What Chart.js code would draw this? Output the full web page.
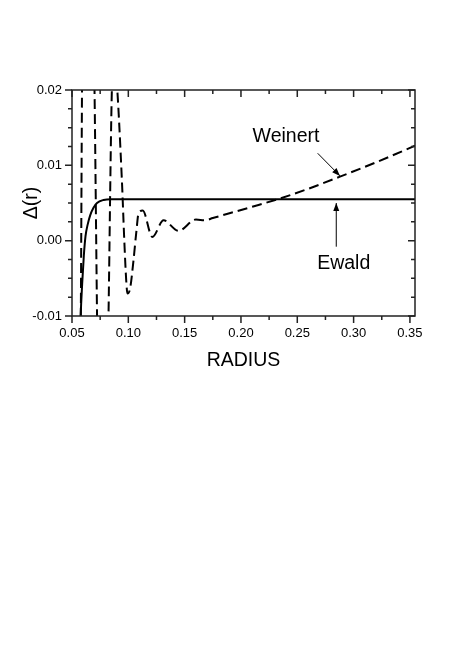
<!DOCTYPE html>
<html>
<head>
<meta charset="utf-8">
<script src="https://cdn.jsdelivr.net/npm/chart.js@4/dist/chart.umd.min.js"></script>
<style>
  html, body { margin: 0; padding: 0; background: #ffffff; }
  canvas { display: block; }
</style>
</head>
<body>
<canvas id="c" width="449" height="647"></canvas>
<script>
// ---- data ----
const weinertRadius = [0.0500, 0.0577, 0.0590, 0.0645, 0.0698, 0.0724, 0.0770, 0.0822, 0.0858, 0.0875,
  0.0893, 0.0943, 0.0964, 0.0981, 0.0992, 0.1015, 0.1046, 0.1070, 0.1092, 0.1128,
  0.1213, 0.1313, 0.1445, 0.1600, 0.1680, 0.1750, 0.1890, 0.2100, 0.2347, 0.2600,
  0.2879, 0.3200, 0.3545];
const weinertDelta = [-0.060, -0.012, 0.022, 0.060, 0.022, -0.012, -0.060, -0.012, 0.022, 0.0240,
  0.022, 0.0080, 0.0001, -0.0052, -0.0070, -0.0064, -0.0026, 0.0010, 0.0037, 0.0040,
  0.0005, 0.0027, 0.0013, 0.0028, 0.0027, 0.0030, 0.0036, 0.0045, 0.0056, 0.0069,
  0.0085, 0.0104, 0.0126];

const ewaldRadius = [0.0570, 0.0577, 0.0590, 0.0605, 0.0620, 0.0640, 0.0662, 0.0692, 0.0722, 0.0780, 0.0850, 0.3545];
const ewaldDelta  = [-0.0140, -0.0100, -0.0058, -0.0020, 0.0006, 0.0022, 0.0034, 0.0044, 0.0050, 0.0054, 0.0055, 0.0055];

const xTickValues = [0.05, 0.10, 0.15, 0.20, 0.25, 0.30, 0.35];
const yTickValues = [-0.01, 0.00, 0.01, 0.02];

const seriesLabels = ['Weinert', 'Ewald'];
const xTitle = 'RADIUS';
const yTitle = 'Δ(r)';

const FONT = "'Liberation Sans', Arial, Helvetica, sans-serif";

// annotation placement (in data units)
const notes = [
  { text: 'Weinert', x: 0.2400, y: 0.0138, from: [0.2681, 0.0116], to: [0.2879, 0.0086] },
  { text: 'Ewald',   x: 0.2912, y: -0.0030, from: [0.2846, -0.0008], to: [0.2846, 0.0050] }
];

const framePlugin = {
  id: 'frameTicks',
  afterDatasetsDraw(chart) {
    const ctx = chart.ctx;
    const xs = chart.scales.x, ys = chart.scales.y;
    const a = chart.chartArea;
    ctx.save();
    ctx.strokeStyle = '#222';
    ctx.lineWidth = 1.5;
    ctx.beginPath();
    ctx.rect(a.left, a.top, a.right - a.left, a.bottom - a.top);
    ctx.stroke();
    // x ticks: bottom outward, top inward
    const xStep = 0.025;
    for (let i = 0; ; i++) {
      const v = xTickValues[0] + i * xStep;
      if (v > xs.max + 1e-9) break;
      const px = xs.getPixelForValue(v);
      const len = (i % 2 === 0) ? 7 : 4;
      ctx.beginPath();
      ctx.moveTo(px, a.bottom); ctx.lineTo(px, a.bottom + len);
      ctx.moveTo(px, a.top); ctx.lineTo(px, a.top + len);
      ctx.stroke();
    }
    // y ticks: left outward, right inward
    const yStep = 0.0025;
    for (let i = 0; ; i++) {
      const v = yTickValues[0] + i * yStep;
      if (v > ys.max + 1e-9) break;
      const py = ys.getPixelForValue(v);
      const len = (i % 4 === 0) ? 7 : 4;
      ctx.beginPath();
      ctx.moveTo(a.left, py); ctx.lineTo(a.left - len, py);
      ctx.moveTo(a.right, py); ctx.lineTo(a.right - len, py);
      ctx.stroke();
    }
    // annotations
    ctx.fillStyle = '#000';
    ctx.strokeStyle = '#000';
    ctx.font = '19.5px ' + FONT;
    ctx.textAlign = 'center';
    ctx.textBaseline = 'middle';
    notes.forEach(n => {
      ctx.fillText(n.text, xs.getPixelForValue(n.x), ys.getPixelForValue(n.y));
      const x1 = xs.getPixelForValue(n.from[0]), y1 = ys.getPixelForValue(n.from[1]);
      const x2 = xs.getPixelForValue(n.to[0]), y2 = ys.getPixelForValue(n.to[1]);
      ctx.lineWidth = 1;
      ctx.beginPath(); ctx.moveTo(x1, y1); ctx.lineTo(x2, y2); ctx.stroke();
      const ang = Math.atan2(y2 - y1, x2 - x1);
      const L = 8, W = 3;
      ctx.beginPath();
      ctx.moveTo(x2, y2);
      ctx.lineTo(x2 - L * Math.cos(ang) + W * Math.sin(ang), y2 - L * Math.sin(ang) - W * Math.cos(ang));
      ctx.lineTo(x2 - L * Math.cos(ang) - W * Math.sin(ang), y2 - L * Math.sin(ang) + W * Math.cos(ang));
      ctx.closePath();
      ctx.fill();
    });
    ctx.restore();
  }
};

new Chart(document.getElementById('c'), {
  type: 'line',
  data: {
    datasets: [
      {
        label: seriesLabels[0],
        data: weinertRadius.map((r, i) => ({ x: r, y: weinertDelta[i] })),
        borderColor: '#000',
        borderWidth: 2,
        borderDash: [10, 5],
        pointRadius: 0,
        cubicInterpolationMode: 'monotone',
        fill: false,
        clip: 0
      },
      {
        label: seriesLabels[1],
        data: ewaldRadius.map((r, i) => ({ x: r, y: ewaldDelta[i] })),
        borderColor: '#000',
        borderWidth: 2,
        pointRadius: 0,
        cubicInterpolationMode: 'monotone',
        fill: false,
        clip: 0
      }
    ]
  },
  options: {
    responsive: false,
    animation: false,
    devicePixelRatio: 1,
    layout: { padding: { top: 90, right: 34, bottom: 271, left: 0 } },
    plugins: { legend: { display: false }, tooltip: { enabled: false } },
    scales: {
      x: {
        type: 'linear',
        min: 0.05,
        max: 0.3545,
        grid: { display: false, drawTicks: false },
        border: { display: false },
        afterBuildTicks: s => { s.ticks = xTickValues.map(v => ({ value: v })); },
        afterFit: s => { s.height = 60; },
        ticks: {
          color: '#000',
          font: { family: FONT, size: 13 },
          padding: 10,
          maxRotation: 0,
          autoSkip: false,
          callback: v => Number(v).toFixed(2)
        },
        title: {
          display: true,
          text: xTitle,
          color: '#000',
          font: { family: FONT, size: 19.5 },
          padding: { top: 0, bottom: 4 }
        }
      },
      y: {
        type: 'linear',
        min: -0.01,
        max: 0.02,
        grid: { display: false, drawTicks: false },
        border: { display: false },
        afterBuildTicks: s => { s.ticks = yTickValues.map(v => ({ value: v })); },
        afterFit: s => { s.width = 72; },
        ticks: {
          color: '#000',
          font: { family: FONT, size: 13 },
          padding: 10,
          autoSkip: false,
          callback: v => Number(v).toFixed(2)
        },
        title: {
          display: true,
          text: yTitle,
          color: '#000',
          font: { family: FONT, size: 19.5 },
          padding: { top: 20, bottom: 0 }
        }
      }
    }
  },
  plugins: [framePlugin]
});
</script>
</body>
</html>
